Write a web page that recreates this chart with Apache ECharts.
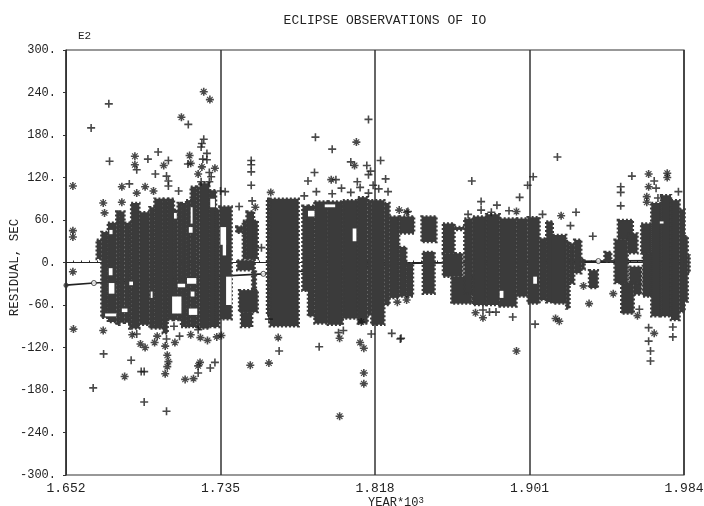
<!DOCTYPE html>
<html><head><meta charset="utf-8">
<style>html,body{margin:0;padding:0;background:#fff}#c{width:704px;height:506px}</style>
<script src="https://cdn.jsdelivr.net/npm/echarts@6/dist/echarts.min.js"></script>
</head><body><div id="c"></div>
<script>
const startYear = 1652;
const yearTickStep = 83;
const yearSpan = 332;
const residualTicks = [-300, 300, 60];

// Dense observation clouds: [fromYear, toYear, lowResidual, highResidual]
const cloudEarly = [
[1668.5,1671,5,32],[1671,1674.5,-78,43],[1674.5,1679,-84,56],[1679,1680.7,-88,72],[1680.7,1683.4,-85,72],
[1683.4,1686,-85,56],[1686,1687,-93,56],[1687,1691.4,-93,84],[1691.4,1696.8,-88,71],[1696.8,1699.5,-93,78],
[1699.5,1704,-93,90],[1704,1706.6,-100,90],[1706.6,1710,-81,90],[1710,1712,-81,74],[1712,1713.8,-81,84],
[1713.8,1716.5,-91,84],[1716.5,1719,-91,88],[1719,1722,-91,107],[1722,1723.7,-93,107],[1723.7,1729,-93,112],
[1729,1732.6,-91,102],[1732.6,1734.4,-91,75],[1734.4,1741,-80,79],
[1743.5,1747,42,51],[1744,1753.3,-11,3],[1747,1749,5,59],[1749,1753,5,72],[1753,1755,5,59],
[1752,1754,-39,-11],[1745,1755,-70,-39],[1746,1752,-91,-70]
];
const cloudMiddle = [
[1760,1761.5,-75,90],[1761.5,1777,-90,90],
[1779,1782,-40,80],[1782,1785.5,-76,80],[1785.5,1792.7,-86,86],[1792.7,1800.7,-88,86],[1800.7,1808.8,-79,88],
[1808.8,1814,-86,92],[1814,1816,-74,88],[1816,1823,-88,88],[1823,1825.8,-60,84],[1825.8,1831,-50,65],
[1831,1839,41,65],[1831,1834.8,-48,22],[1834.8,1838.4,-48,-1],
[1843,1851,29,65],[1843.7,1850,-44,15],[1854.5,1860.7,13,55],[1860.7,1865.2,46,50],[1854.5,1865,-20,13],
[1859,1870,-58,-20]
];
const cloudLate = [
[1866,1870.6,-44,62],[1870.6,1877.7,-60,65],[1877.7,1885,-60,68],[1885,1894,-62,62],[1894,1900,-48,62],
[1900,1906.4,-58,64],[1906.4,1910,-53,34],[1910,1913.5,-56,58],[1913.5,1920.7,-58,39],[1920.7,1922.5,-65,30],
[1922.5,1925,-30,27],[1925,1928.8,-15,32],[1928.8,1930.6,-10,5],
[1933,1937.7,-36,-11],[1941.3,1944.9,1,15],
[1948.5,1956.5,32,60],[1946.7,1953.8,-29,32],[1950.3,1957,-72,-29],[1957,1961,-45,-29],[1953.8,1959,13,41],
[1954.7,1961,-29,-6],[1961,1966.4,13,55],[1961.9,1967,-48,13],
[1966.4,1971.7,-76,84],[1971.7,1977,-76,95],[1977,1981.6,-81,88],[1981.6,1984.3,-70,75],[1984.3,1986,-55,37],[1986,1987,-15,10]
];
// Empty pockets inside the clouds: [fromYear, toYear, lowResidual, highResidual]
const cloudGaps = [
[1675.3,1677,40,46],[1718,1720,42,50],[1710,1711.5,62,70],[1729.5,1732,78,90],[1719,1720,55,78],[1735,1738,25,50],
[1675,1677,-18,-8],[1675,1678,-44,-29],[1673,1679,-76,-72],[1682,1685,-70,-65],[1697.5,1698.5,-50,-41],
[1686,1688,-32,-27],[1717,1722,-30,-22],[1709,1714,-72,-48],[1718,1722.5,-74,-65],[1712,1716,-35,-30],[1719,1721,-48,-41],
[1736.2,1738,10,32],[1738,1741,-60,-20],
[1791,1796.6,78,82],[1806,1808,30,48],[1782,1785.5,65,73],[1971,1973,55,58],[1885,1887,-50,-40],[1903,1905,-30,-20]
];

const zeroLine = [[1652,0],[1984,0]];
const fitLine = [[1652,-32],[1667,-29],[1758,-16],[1840,-1],[1938,2],[1984,3]];
const fitMarks = [[1667,-29],[1758,-16],[1938,2]];
const fitStart = [[1652,-32]];

const plusPoints = [
[1675,224],[1665.5,190],[1717.7,195],[1675.4,143],[1701.5,156],[1696,146],[1707,144],[1726,174],[1725,168],[1724.6,163],
[1727.7,154],[1725.5,146],[1727.7,145],[1717.5,139],[1690,131],[1700,125],[1706,122],[1707,115],[1707,108],[1686,111],
[1712.5,101],[1729,127],[1730,121],[1724.6,114],[1729,114],[1735,101],[1737.5,100],[1745,79],
[1751.5,144],[1751.5,138],[1751.5,128],[1751.5,109],[1752,87],[1757,21],[1786,177],[1795,160],[1785.5,127],[1782,115],
[1780,94],[1786.5,100],[1797,117],[1795,97],[1800,105],[1805,142],[1805,99],[1808.5,114],[1810,106],[1813.6,137],
[1814.5,202],[1815.6,129],[1814.5,124],[1817,109],[1821,144],[1823.7,118],[1820,104],[1825,100],[1814.5,98],
[1666.6,-177],[1672.2,-129],[1687,-138],[1692.4,-154],[1694,-154],[1694,-197],[1706,-210],[1723,-156],[1729.5,-149],
[1732,-141],[1713,-104],[1706,-108],[1690,-101],[1723,-95],[1710,-90],
[1766.5,-125],[1788,-119],[1798.4,-99],[1801,-96],[1816,-101],[1827,-100],[1831.6,-108],[1761,-80],
[1870,115],[1875,86],[1875,74],[1868,68],[1883.5,81],[1880.5,71],[1890,73],[1895.7,92],[1900,109],[1903,121],[1908,68],
[1835.7,72],[1832,-107],[1876,-67],[1879.5,-70],[1883,-70],[1892,-77],[1904,-87],
[1916,149],[1926,71],[1923,52],[1935,37],[1956,122],[1950,107],[1950,99],[1950,80],[1981,100],[1960,-66],[1965,-92],
[1965,-111],[1966,-125],[1966,-139],[1978,-91],[1978,-105],[1969,105],[1968,115],[1970,91]
];
const starPoints = [
[1726,241],[1729.3,230],[1714,205],[1655.7,108],[1689,150],[1689,138],[1682,107],[1694.5,107],[1699,101],[1672,84],
[1682,85],[1672.7,70],[1690,98],[1704.5,137],[1718.4,151],[1719,140],[1723,125],[1732,133],[1655.7,45],[1655.7,36],[1725,135],
[1808,170],[1807,137],[1794.5,117],[1753.7,78],[1762,99],[1831,74],[1835,71],
[1655.7,-13],[1656,-94],[1672,-96],[1683.5,-161],[1687.6,-102],[1692,-115],[1694.5,-120],[1699.6,-113],[1701,-104],
[1705.3,-118],[1706.4,-131],[1707,-140],[1706.4,-147],[1705.3,-157],[1710.5,-113],[1716,-165],[1720.5,-164],[1724,-141],
[1723,-146],[1724.2,-106],[1728,-110],[1719,-102],[1735.5,-103],[1733,-105],
[1766,-106],[1751,-145],[1761,-142],[1799,-107],[1810,-113],[1812,-121],[1812,-156],[1812,-171],[1799,-217],[1810.6,-84],
[1830,-56],[1835,-53],[1894,72],[1872,-71],[1876,-78],[1894,-125],
[1918,66],[1930,-33],[1933,-58],[1946,-44],[1959,-75],[1968,-100],[1915,-79],[1917,-83],[1965,125],[1965,107],
[1975,126],[1975,120],[1964,93],[1964,85]
];

const ink = '#333';
const labelFont = 'Liberation Mono';
const toAxis = p => [p[0] - startYear, p[1]];
const toBox = b => [b[0] - startYear, b[1] - startYear, b[2], b[3]];
const plusPath = 'path://M4 0H6V4H10V6H6V10H4V6H0V4H4Z';
const starPath = 'path://M4 0H6V4H10V6H6V10H4V6H0V4H4Z M1 2L2 1L9 8L8 9Z M8 1L9 2L2 9L1 8Z';

function boxRenderer(color, rough) {
  return function (params, api) {
    const a = api.coord([api.value(0), api.value(3)]);
    const b = api.coord([api.value(1), api.value(2)]);
    return {
      type: 'rect',
      shape: { x: a[0], y: a[1], width: b[0] - a[0], height: b[1] - a[1] },
      style: rough ? { fill: color, stroke: color, lineWidth: 2.5, lineDash: [2, 2] } : { fill: color }
    };
  };
}
function boxSeries(data, color, rough, z) {
  return { type: 'custom', renderItem: boxRenderer(color, rough), data: data.map(toBox),
    encode: { x: [0, 1], y: [2, 3] }, z: z, clip: false, silent: true, animation: false };
}

const chart = echarts.init(document.getElementById('c'), null, { renderer: 'canvas' });
chart.setOption({
  animation: false,
  backgroundColor: '#fff',
  title: [
    { text: 'ECLIPSE OBSERVATIONS OF IO', left: 380, top: 9, textAlign: 'center',
      textStyle: { fontFamily: labelFont, fontSize: 13, fontWeight: 'normal', color: '#222' } },
    { text: 'E2', left: 73, top: 26, textStyle: { fontFamily: labelFont, fontSize: 11, fontWeight: 'normal', color: '#222' } },
    { text: 'YEAR*10{s|3}', left: 391, top: 491, textAlign: 'center',
      textStyle: { fontFamily: labelFont, fontSize: 12, fontWeight: 'normal', color: '#222',
        rich: { s: { fontFamily: labelFont, fontSize: 9, verticalAlign: 'top', padding: [0, 0, 5, 0], color: '#222' } } } }
  ],
  grid: { left: 66, right: 20, top: 50, bottom: 31, show: true, borderColor: ink, borderWidth: 1.2, backgroundColor: '#fff',
    containLabel: false, outerBoundsMode: 'none' },
  xAxis: {
    type: 'value', min: 0, max: yearSpan, interval: yearTickStep,
    axisLine: { lineStyle: { color: ink, width: 1 } },
    axisTick: { inside: true, length: 3, lineStyle: { color: ink } },
    minorTick: { show: true, splitNumber: 20, length: 2, lineStyle: { color: ink } },
    minorSplitLine: { show: false },
    splitLine: { show: true, lineStyle: { color: ink, width: 1.5 } },
    axisLabel: { formatter: v => ((v + startYear) / 1000).toFixed(3), fontFamily: labelFont, fontSize: 13, color: '#222', margin: 7, hideOverlap: false }
  },
  yAxis: {
    type: 'value', min: residualTicks[0], max: residualTicks[1], interval: residualTicks[2],
    name: 'RESIDUAL, SEC', nameLocation: 'middle', nameGap: 45, nameRotate: 90, nameMoveOverlap: false,
    nameTextStyle: { fontFamily: labelFont, fontSize: 12.5, color: '#222', padding: [0, 10, 0, 0] },
    axisLine: { show: true, lineStyle: { color: ink, width: 1 } },
    axisTick: { inside: false, length: 3, lineStyle: { color: ink } },
    splitLine: { show: false },
    axisLabel: { formatter: v => v + '.', fontFamily: labelFont, fontSize: 12, color: '#222', margin: 10 }
  },
  series: [
    { type: 'line', data: zeroLine.map(toAxis), showSymbol: false, lineStyle: { color: '#222', width: 1.2 }, z: 2, silent: true },
    { type: 'line', data: fitLine.map(toAxis), showSymbol: false, lineStyle: { color: '#222', width: 1.6 }, z: 2, silent: true },
    { type: 'scatter', data: fitMarks.map(toAxis), symbol: 'circle', symbolSize: 5,
      itemStyle: { color: '#fff', borderColor: '#222', borderWidth: 1 }, z: 6, silent: true },
    { type: 'scatter', data: fitStart.map(toAxis), symbol: 'circle', symbolSize: 5, itemStyle: { color: '#333' }, z: 6, silent: true },
    boxSeries(cloudEarly, '#3b3b3b', true, 3),
    boxSeries(cloudMiddle, '#3b3b3b', true, 3),
    boxSeries(cloudLate, '#3b3b3b', true, 3),
    boxSeries(cloudGaps, '#ffffff', false, 4),
    { type: 'scatter', data: plusPoints.map(toAxis), symbol: plusPath, symbolSize: 8, itemStyle: { color: '#1c1c1c' }, z: 5, silent: true },
    { type: 'scatter', data: starPoints.map(toAxis), symbol: starPath, symbolSize: 8, itemStyle: { color: '#1c1c1c' }, z: 5, silent: true }
  ]
});
</script></body></html>
